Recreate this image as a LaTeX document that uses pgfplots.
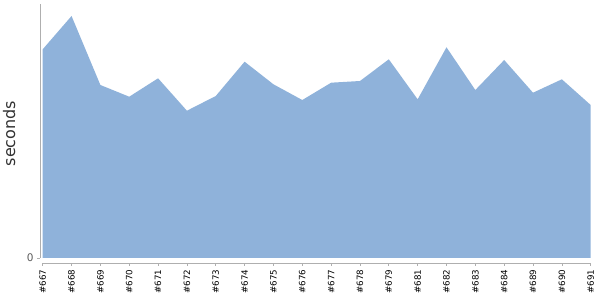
\documentclass[border=0pt]{standalone}
\usepackage{pgfplots}
\pgfplotsset{compat=1.18}
\usepackage{fontspec}
\setmainfont{DejaVu Sans}
\definecolor{areafill}{RGB}{143,178,218}
\definecolor{axgray}{RGB}{175,175,175}
\definecolor{lblgray}{RGB}{90,90,90}
\begin{document}
\begin{tikzpicture}[x=1pt,y=1pt]
\useasboundingbox (0,0) rectangle (600,300);
\begin{axis}[
  at={(40pt,37pt)}, anchor=south west,
  scale only axis,
  width=550.7pt, height=259pt,
  xmin=-0.094, xmax=19,
  ymin=-5, ymax=254,
  axis x line*=bottom, axis y line*=left,
  x axis line style={draw=axgray, line width=0.8pt, shorten <=2.7pt, -},
  y axis line style={draw=axgray, line width=0.8pt, shorten <=5pt, -},
  xtick={0,...,19},
  xticklabels={\#667,\#668,\#669,\#670,\#671,\#672,\#673,\#674,\#675,\#676,\#677,\#678,\#679,\#681,\#682,\#683,\#684,\#689,\#690,\#691},
  xticklabel style={rotate=90, anchor=east, font=\fontsize{8.7}{9}\selectfont, black},
  ytick={0},
  yticklabel style={font=\fontsize{10.5}{11}\selectfont, text=lblgray},
  /pgf/number format/assume math mode=true,
  tick style={draw=axgray, line width=0.7pt},
  tick align=outside,
  major tick length=3pt,
  ylabel={seconds},
  ylabel style={font=\fontsize{16}{17}\selectfont, text=black!80, at={(axis description cs:0,0.5)}, anchor=south, yshift=21pt},
  clip=false,
]
\addplot[draw=none, fill=areafill] coordinates {
(0,208.7) (1,242.0) (2,173.0) (3,161.3) (4,179.7) (5,147.3) (6,162.0) (7,196.3) (8,173.7) (9,158.0)
(10,175.3) (11,177.0) (12,198.7) (13,158.7) (14,210.7) (15,168.0) (16,198.0) (17,165.3) (18,178.7) (19,153.0)
} \closedcycle;
\end{axis}
\end{tikzpicture}
\end{document}
